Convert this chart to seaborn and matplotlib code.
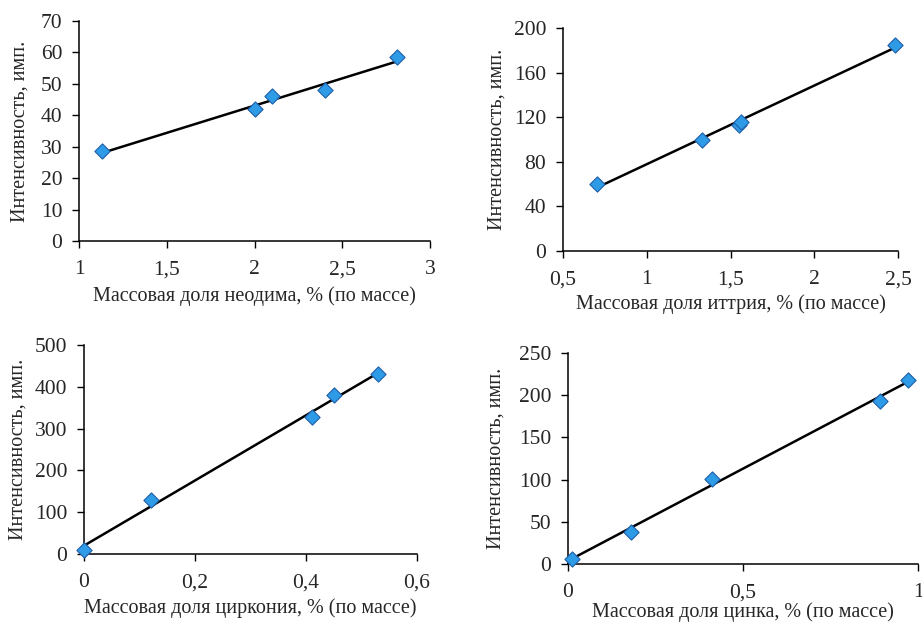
import numpy as np
import pandas as pd
import seaborn as sns
import matplotlib.pyplot as plt

# neodymium
nd_x = [1.13, 2.0, 2.1, 2.4, 2.81]
nd_y = [28.5, 42, 46, 48, 58.5]
# yttrium
y_x = [0.70, 1.33, 1.55, 1.56, 2.48]
y_y = [60, 100, 113, 116, 185]
# zirconium
zr_x = [0.0, 0.12, 0.41, 0.45, 0.53]
zr_y = [10, 128, 327, 381, 431]
# zinc
zn_x = [0.01, 0.18, 0.41, 0.89, 0.97]
zn_y = [6, 38, 101, 193, 218]

xlabels = ["Массовая доля неодима, % (по массе)",
           "Массовая доля иттрия, % (по массе)",
           "Массовая доля циркония, % (по массе)",
           "Массовая доля цинка, % (по массе)"]
ylabel = "Интенсивность, имп."

sns.set_style("ticks")
plt.rcParams['font.family'] = ['Liberation Serif', 'DejaVu Serif']

W, H = 922, 623
fig = plt.figure(figsize=(W / 100, H / 100), dpi=100)

# pixel boxes: left, top, right, bottom
boxes = [(79, 21, 430, 241), (563, 28, 898, 251),
         (84, 345, 417, 554), (568, 353, 918, 564)]
data = [(nd_x, nd_y), (y_x, y_y), (zr_x, zr_y), (zn_x, zn_y)]
xlims = [(1, 3), (0.5, 2.5), (0, 0.6), (0, 1)]
xticks = [[1, 1.5, 2, 2.5, 3], [0.5, 1, 1.5, 2, 2.5],
          [0, 0.2, 0.4, 0.6], [0, 0.5, 1]]
ylims = [(0, 70), (0, 200), (0, 500), (0, 250)]
yticks = [np.arange(0, 71, 10), np.arange(0, 201, 40),
          np.arange(0, 501, 100), np.arange(0, 251, 50)]
# x label centre (px from top) and y label centre (px from left)
xlab_y = [296, 304, 608, 612]
ylab_x = [20, 497, 18, 496]

for i in range(4):
    l, t, r, b = boxes[i]
    ax = fig.add_axes([l / W, 1 - b / H, (r - l) / W, (b - t) / H])
    df = pd.DataFrame({"x": data[i][0], "y": data[i][1]})
    sns.regplot(data=df, x="x", y="y", ax=ax, scatter=False, ci=None,
                truncate=True, color="black", line_kws={"lw": 1.8})
    sns.scatterplot(data=df, x="x", y="y", ax=ax, marker="D", s=60,
                    color="#2E9BE6", edgecolor="#1F5FA8", linewidth=0.8,
                    zorder=5, clip_on=False)
    ax.set_xlim(*xlims[i])
    ax.set_ylim(*ylims[i])
    ax.set_xticks(xticks[i])
    ax.set_xticklabels([f"{v:g}".replace(".", ",") for v in xticks[i]])
    ax.set_yticks(yticks[i])
    ax.set_xlabel(xlabels[i], fontsize=14.5, va="center")
    ax.set_ylabel(ylabel, fontsize=14.5, va="center")
    ax.xaxis.set_label_coords((l + r) / 2 / W, 1 - xlab_y[i] / H,
                              transform=fig.transFigure)
    ax.yaxis.set_label_coords(ylab_x[i] / W, 1 - (t + b) / 2 / H,
                              transform=fig.transFigure)
    ax.tick_params(labelsize=15.5, length=5, width=1, color="black")
    ax.tick_params(axis="x", pad=9)
    ax.tick_params(axis="y", pad=7)
    for s in ["left", "bottom"]:
        ax.spines[s].set_linewidth(1.1)
        ax.spines[s].set_color("black")
    sns.despine(ax=ax)

fig.savefig("out.png", dpi=100)
